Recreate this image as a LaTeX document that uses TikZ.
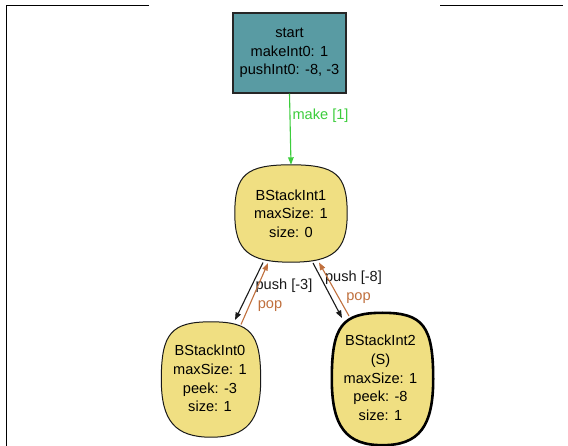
\documentclass[tikz,border=0pt]{standalone}
\usepackage{fontspec}
\setmainfont{Liberation Sans}
\usetikzlibrary{arrows.meta,calc}
\definecolor{startfill}{RGB}{89,155,163}
\definecolor{blobfill}{RGB}{240,223,130}
\definecolor{edgebrown}{RGB}{192,112,62}
\definecolor{edgegreen}{RGB}{60,205,60}
\definecolor{edgeblack}{RGB}{25,25,25}
\newcommand\blobpath[3]{%
 (#1.east) .. controls ($(#1.east)!#2!(#1.north east)$) and ($(#1.north)!#2!(#1.north east)$) .. (#1.north)
 .. controls ($(#1.north)!#2!(#1.north west)$) and ($(#1.west)!#2!(#1.north west)$) .. (#1.west)
 .. controls ($(#1.west)!#3!(#1.south west)$) and ($(#1.south)!#3!(#1.south west)$) .. (#1.south)
 .. controls ($(#1.south)!#3!(#1.south east)$) and ($(#1.east)!#3!(#1.south east)$) .. (#1.east) -- cycle}
\tikzset{
  txt/.style={font=\fontsize{14.6pt}{18.7pt}\selectfont, align=center, inner sep=0pt},
  startbox/.style={txt, draw=black!85, line width=1.2pt, fill=startfill, rectangle},
  blobnode/.style={txt, rectangle, draw=none},
  blobline/.style={draw=black!90, line width=1pt, fill=blobfill},
  blobthick/.style={draw=black, line width=2.6pt, fill=blobfill},
  tip/.style={-{Triangle[length=7.5pt,width=5.5pt]}},
  blackedge/.style={tip, edgeblack, line width=1.1pt},
  brownedge/.style={tip, edgebrown, line width=1.1pt},
  greenedge/.style={tip, edgegreen, line width=1.1pt},
  lbl/.style={txt},
  frameline/.style={line width=1.3pt, black}
}
\begin{document}
\begin{tikzpicture}[x=1pt,y=-1pt]
\useasboundingbox (0,0) rectangle (568,446);
\fill[white] (0,0) rectangle (568,446);
% frame
\draw[frameline] (149,5.3) -- (6.5,5.3) -- (6.5,446);
\draw[frameline] (440,5.3) -- (563,5.3);
% nodes
\node[startbox, minimum width=113pt, minimum height=80pt] (start) at (289.5,53)
  {start\\makeInt0: 1\\pushInt0: -8, -3};
\node[blobnode, minimum width=112pt, minimum height=97pt] (b1) at (291,213.5) {};
\node[blobnode, minimum width=99pt, minimum height=115pt] (b0) at (211,379.5) {};
\node[blobnode, minimum width=101pt, minimum height=132pt] (b2) at (382.5,379) {};
\path[blobline] \blobpath{b1}{0.8}{0.76};
\path[blobline] \blobpath{b0}{0.8}{0.72};
\path[blobthick] \blobpath{b2}{0.8}{0.72};
\node[txt] at (b1) {BStackInt1\\maxSize: 1\\size: 0};
\node[txt] at ($(b0)+(-1,-1)$) {BStackInt0\\maxSize: 1\\peek: -3\\size: 1};
\node[txt] at ($(b2)+(-2,-1)$) {BStackInt2\\(S)\\maxSize: 1\\peek: -8\\size: 1};
% edges
\draw[greenedge] (start.south) -- (b1.north)
  node[lbl, text=edgegreen, anchor=west] at (292,116) {make [1]};
\draw[blackedge] ($(b1)+(-28,49)$) -- ($(b0)+(24,-59.5)$)
  node[lbl, text=edgeblack] at (284,286) {push [-3]};
\draw[brownedge] ($(b0)+(30,-55)$) -- ($(b1)+(-23,49.5)$)
  node[lbl, text=edgebrown] at (270,306) {pop};
\draw[blackedge] ($(b1)+(22,49.5)$) -- ($(b2)+(-40.5,-61)$)
  node[lbl, text=edgeblack] at (353.5,278) {push [-8]};
\draw[brownedge] ($(b2)+(-33.5,-63)$) -- ($(b1)+(28,49)$)
  node[lbl, text=edgebrown] at (358.5,298) {pop};
\end{tikzpicture}
\end{document}
